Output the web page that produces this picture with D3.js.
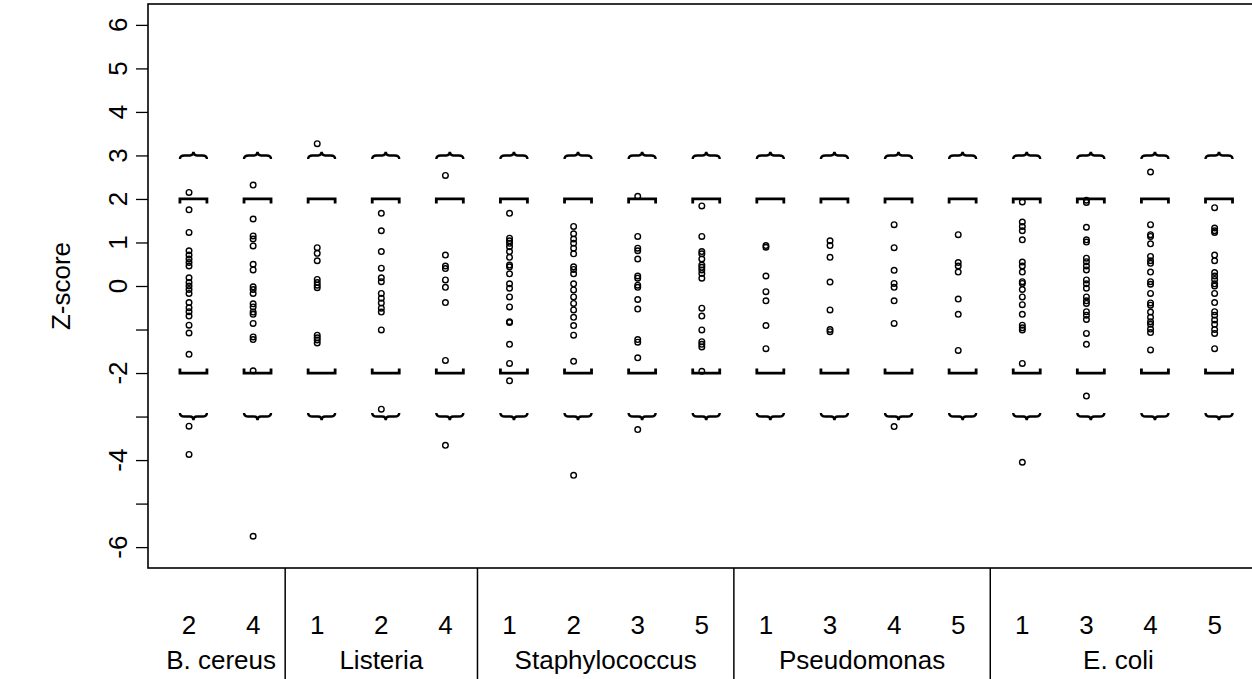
<!DOCTYPE html>
<html>
<head>
<meta charset="utf-8">
<script src="https://cdn.jsdelivr.net/npm/d3@7/dist/d3.min.js"></script>
<style>
  html, body { margin: 0; padding: 0; background: #fff; }
  svg { display: block; font-family: "Liberation Sans", Arial, sans-serif; }
</style>
</head>
<body>
<svg id="chart" width="1252" height="679"></svg>
<script>
// ---- data ----
const columnLabels = ["2","4","1","2","4","1","2","3","5","1","3","4","5","1","3","4","5"];
const columnGroups = ["B. cereus","B. cereus","Listeria","Listeria","Listeria",
  "Staphylococcus","Staphylococcus","Staphylococcus","Staphylococcus",
  "Pseudomonas","Pseudomonas","Pseudomonas","Pseudomonas",
  "E. coli","E. coli","E. coli","E. coli"];
const groupNames = ["B. cereus","Listeria","Staphylococcus","Pseudomonas","E. coli"];
const yTicks = [-6,-5,-4,-3,-2,-1,0,1,2,3,4,5,6];
const yTickLabels = ["-6","","-4","","-2","","0","1","2","3","4","5","6"];
const yTitle = "Z-score";
const limitsInner = [-2, 2];
const limitsOuter = [-3, 3];

const bcereus2 = [2.15,1.75,1.23,0.81,0.71,0.62,0.54,0.46,0.19,0.08,0.0,-0.08,-0.17,-0.38,-0.50,-0.59,-0.69,-0.90,-1.08,-1.57,-3.22,-3.87];
const bcereus4 = [2.32,1.54,1.15,1.08,0.92,0.50,0.37,-0.02,-0.08,-0.17,-0.41,-0.48,-0.60,-0.65,-0.86,-1.17,-1.23,-1.95,-5.75];
const listeria1 = [3.27,0.88,0.75,0.58,0.15,0.08,0.02,-0.04,-1.13,-1.19,-1.24,-1.31];
const listeria2 = [1.67,1.27,0.79,0.41,0.19,0.10,-0.17,-0.28,-0.39,-0.51,-0.60,-1.01,-2.83];
const listeria4 = [2.54,0.71,0.46,0.40,0.14,-0.03,-0.38,-1.71,-3.66];
const staph1 = [1.67,1.10,1.04,0.98,0.90,0.79,0.66,0.48,0.44,0.28,0.05,-0.05,-0.25,-0.48,-0.82,-0.84,-1.34,-1.78,-2.18];
const staph2 = [1.37,1.20,1.08,0.98,0.87,0.74,0.44,0.38,0.28,0.05,-0.09,-0.25,-0.40,-0.55,-0.72,-0.91,-1.13,-1.73,-4.35];
const staph3 = [2.06,1.14,0.87,0.81,0.62,0.23,0.18,0.02,-0.03,-0.31,-0.53,-1.23,-1.29,-1.65,-3.30];
const staph5 = [1.84,1.14,0.79,0.74,0.62,0.48,0.43,0.37,0.29,0.18,-0.51,-0.69,-1.01,-1.28,-1.34,-1.40,-1.96];
const pseudo1 = [0.93,0.89,0.23,-0.13,-0.34,-0.91,-1.44];
const pseudo3 = [1.04,0.93,0.66,0.09,-0.55,-1.00,-1.05];
const pseudo4 = [1.41,0.88,0.36,0.06,-0.03,-0.34,-0.86,-3.23];
const pseudo5 = [1.18,0.54,0.46,0.32,-0.30,-0.65,-1.48];
const ecoli1 = [1.93,1.47,1.37,1.27,1.06,0.55,0.46,0.32,0.10,0.06,-0.08,-0.25,-0.43,-0.65,-0.90,-0.96,-1.01,-1.78,-4.05];
const ecoli3 = [1.97,1.92,1.35,1.06,1.01,0.64,0.56,0.46,0.37,0.14,0.05,-0.05,-0.25,-0.34,-0.40,-0.59,-0.67,-0.77,-1.09,-1.34,-2.53];
const ecoli4 = [2.62,1.41,1.18,1.14,0.97,0.68,0.58,0.52,0.32,0.10,0.04,-0.17,-0.39,-0.44,-0.60,-0.72,-0.82,-0.88,-0.99,-1.07,-1.47];
const ecoli5 = [1.80,1.33,1.27,1.23,0.71,0.58,0.31,0.23,0.15,0.05,0.0,-0.17,-0.38,-0.59,-0.67,-0.78,-0.88,-1.00,-1.09,-1.44];

const columnValues = [bcereus2,bcereus4,listeria1,listeria2,listeria4,staph1,staph2,staph3,staph5,
  pseudo1,pseudo3,pseudo4,pseudo5,ecoli1,ecoli3,ecoli4,ecoli5];

// ---- layout ----
(function () {
const svg = d3.select("#chart");
const n = columnLabels.length;
const plotLeft = 148, plotTop = 4, plotBottom = 568;
const unit = 64.1;
const ext = (n - 1) * 0.04;
const x = d3.scaleLinear().domain([1 - ext, n + ext]).range([plotLeft, plotLeft + (n - 1 + 2 * ext) * unit]);
const yExt = 12 * 0.04;
const y = d3.scaleLinear().domain([-6 - yExt, 6 + yExt]).range([plotBottom, plotTop]);
const font = "Liberation Sans, Arial, sans-serif";
const fs = 26;

// plot box
svg.append("rect")
  .attr("x", x.range()[0]).attr("y", plotTop)
  .attr("width", x.range()[1] - x.range()[0]).attr("height", plotBottom - plotTop)
  .attr("fill", "none").attr("stroke", "#000").attr("stroke-width", 1.6);

// y axis ticks (d3 axis) with labels drawn as rotated text
const yAxis = d3.axisLeft(y).tickValues(yTicks).tickSize(12).tickFormat(() => "");
const gy = svg.append("g").attr("transform", `translate(${plotLeft},0)`).call(yAxis);
gy.select(".domain").remove();
gy.selectAll(".tick line").attr("stroke", "#000").attr("stroke-width", 1.3);
gy.selectAll(".tick text").remove();

svg.append("g").selectAll("text").data(yTicks).join("text")
  .attr("transform", d => `translate(${plotLeft - 21},${y(d)}) rotate(-90)`)
  .attr("text-anchor", "middle")
  .style("font-family", font).style("font-size", fs + "px").attr("fill", "#000")
  .text((d, i) => yTickLabels[i]);

// y title
svg.append("text")
  .attr("transform", `translate(70,${y(0)}) rotate(-90)`)
  .attr("text-anchor", "middle")
  .style("font-family", font).style("font-size", fs + "px")
  .text(yTitle);

// brackets [ ] at ±2 and braces at ±3
const bw = 13.5, off = 4.4;
const cols = d3.range(n);
function bracketPath(cx, yy, dir) {
  return `M${cx - bw},${yy + dir * 4.5} L${cx - bw},${yy} L${cx + bw},${yy} L${cx + bw},${yy + dir * 4.5}`;
}
function bracePath(cx, yy, dir) {
  const h = 3.6;
  return `M${cx - bw},${yy + dir * h} Q${cx - bw},${yy} ${cx - bw + 4.5},${yy}` +
         ` L${cx - 3.5},${yy} Q${cx},${yy} ${cx},${yy - dir * h}` +
         ` Q${cx},${yy} ${cx + 3.5},${yy} L${cx + bw - 4.5},${yy}` +
         ` Q${cx + bw},${yy} ${cx + bw},${yy + dir * h}`;
}
const marks = svg.append("g").attr("fill", "none").attr("stroke", "#000");
marks.append("g").selectAll("path").data(cols).join("path")
  .attr("d", i => bracketPath(x(i + 1) + off, y(limitsInner[1]), 1)).attr("stroke-width", 2.8);
marks.append("g").selectAll("path").data(cols).join("path")
  .attr("d", i => bracketPath(x(i + 1) + off, y(limitsInner[0]), -1)).attr("stroke-width", 2.8);
marks.append("g").selectAll("path").data(cols).join("path")
  .attr("d", i => bracePath(x(i + 1) + off, y(limitsOuter[1]), 1)).attr("stroke-width", 2.4);
marks.append("g").selectAll("path").data(cols).join("path")
  .attr("d", i => bracePath(x(i + 1) + off, y(limitsOuter[0]), -1)).attr("stroke-width", 2.4);

// points
const pts = [];
columnValues.forEach((vals, i) => vals.forEach(v => pts.push({ i, v })));
svg.append("g").selectAll("circle").data(pts).join("circle")
  .attr("cx", d => x(d.i + 1)).attr("cy", d => y(d.v)).attr("r", 2.8)
  .attr("fill", "none").attr("stroke", "#000").attr("stroke-width", 1.4);

// column labels
svg.append("g").selectAll("text").data(columnLabels).join("text")
  .attr("x", (d, i) => x(i + 1)).attr("y", 634)
  .attr("text-anchor", "middle")
  .style("font-family", font).style("font-size", fs + "px")
  .text(d => d);

// group separators and names
const groupIdx = groupNames.map(g => {
  const idx = columnGroups.map((c, i) => c === g ? i : -1).filter(i => i >= 0);
  return { name: g, first: idx[0], last: idx[idx.length - 1] };
});
svg.append("g").selectAll("line").data(groupIdx.slice(1)).join("line")
  .attr("x1", d => x(d.first + 0.5)).attr("x2", d => x(d.first + 0.5))
  .attr("y1", plotBottom).attr("y2", 679)
  .attr("stroke", "#000").attr("stroke-width", 1.5);
svg.append("g").selectAll("text").data(groupIdx).join("text")
  .attr("x", d => (x(d.first + 1) + x(d.last + 1)) / 2).attr("y", 669)
  .attr("text-anchor", "middle")
  .style("font-family", font).style("font-size", fs + "px")
  .text(d => d.name);
})();
</script>
</body>
</html>
